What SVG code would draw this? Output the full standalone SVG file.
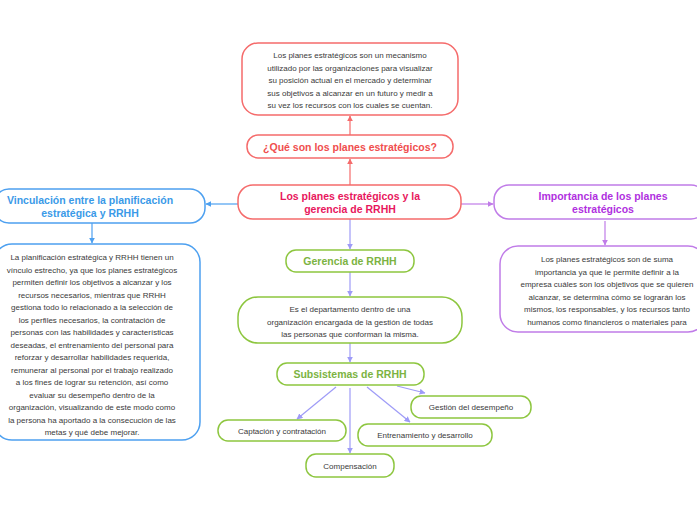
<svg xmlns="http://www.w3.org/2000/svg" width="697" height="520" viewBox="0 0 697 520">
<defs>
<marker id="aR" viewBox="0 0 10 10" refX="9" refY="5" markerWidth="5" markerHeight="5" orient="auto"><path d="M0,0L10,5L0,10z" fill="#f56b6b"/></marker>
<marker id="aB" viewBox="0 0 10 10" refX="9" refY="5" markerWidth="5" markerHeight="5" orient="auto"><path d="M0,0L10,5L0,10z" fill="#4da0f0"/></marker>
<marker id="aP" viewBox="0 0 10 10" refX="9" refY="5" markerWidth="5" markerHeight="5" orient="auto"><path d="M0,0L10,5L0,10z" fill="#c07ce8"/></marker>
<marker id="aL" viewBox="0 0 10 10" refX="9" refY="5" markerWidth="5" markerHeight="5" orient="auto"><path d="M0,0L10,5L0,10z" fill="#9e9bf7"/></marker>
</defs>
<style>
text{font-family:"Liberation Sans","Noto Sans",sans-serif;text-anchor:middle;}
.body{font-size:8px;fill:#3a3a3a;}
.ttl{font-size:10.5px;font-weight:bold;}
.red rect{fill:#fff;stroke:#f56b6b;stroke-width:1.5;}
.blue rect{fill:#fff;stroke:#4da0f0;stroke-width:1.5;}
.pur rect{fill:#fff;stroke:#c07ce8;stroke-width:1.5;}
.grn rect{fill:#fff;stroke:#8dc63f;stroke-width:1.5;}
#connectors line{stroke-width:1.2;fill:none;}
.cr{stroke:#f56b6b;marker-end:url(#aR);}
.cb{stroke:#4da0f0;marker-end:url(#aB);}
.cp{stroke:#c07ce8;marker-end:url(#aP);}
.cl{stroke:#9e9bf7;marker-end:url(#aL);}
</style>
<rect width="697" height="520" fill="#fff"/>
<g id="connectors">
<line class="cr" x1="350" y1="185" x2="350" y2="159"/>
<line class="cr" x1="350" y1="135" x2="350" y2="116"/>
<line class="cb" x1="238" y1="204" x2="206" y2="204"/>
<line class="cb" x1="92" y1="223" x2="92" y2="243"/>
<line class="cp" x1="461" y1="204" x2="493" y2="204"/>
<line class="cp" x1="605" y1="221" x2="605" y2="245"/>
<line class="cl" x1="350" y1="219" x2="350" y2="249"/>
<line class="cl" x1="350" y1="272" x2="350" y2="296"/>
<line class="cl" x1="350" y1="343" x2="350" y2="362"/>
<line class="cl" x1="336" y1="387" x2="297" y2="419"/>
<line class="cl" x1="350" y1="388" x2="350" y2="453"/>
<line class="cl" x1="367" y1="387" x2="410" y2="422"/>
<line class="cl" x1="397" y1="386" x2="425" y2="393"/>
</g>
<g id="n-def" class="red">
<rect x="242" y="43" width="216" height="72" rx="16"/>
<text class="body" x="350" y="58">Los planes estratégicos son un mecanismo</text>
<text class="body" x="350" y="70.5">utilizado por las organizaciones para visualizar</text>
<text class="body" x="350" y="83">su posición actual en el mercado y determinar</text>
<text class="body" x="350" y="95.5">sus objetivos a alcanzar en un futuro y medir a</text>
<text class="body" x="350" y="108">su vez los recursos con los cuales se cuentan.</text>
</g>
<g id="n-que" class="red">
<rect x="247" y="135" width="206" height="23" rx="11"/>
<text class="ttl" x="350" y="150.5" fill="#f04e4e">¿Qué son los planes estratégicos?</text>
</g>
<g id="n-central" class="red">
<rect x="238" y="185" width="223" height="34" rx="15"/>
<text class="ttl" x="350" y="200" fill="#e8175d">Los planes estratégicos y la</text>
<text class="ttl" x="350" y="213" fill="#e8175d">gerencia de RRHH</text>
</g>
<g id="n-vinc" class="blue">
<rect x="-6" y="189" width="211" height="34" rx="15"/>
<text class="ttl" x="90" y="204" fill="#3a9ae8">Vinculación entre la planificación</text>
<text class="ttl" x="90" y="217" fill="#3a9ae8">estratégica y RRHH</text>
</g>
<g id="n-vinc-body" class="blue">
<rect x="-6" y="244" width="206" height="196" rx="18"/>
<text class="body" x="92" y="260">La planificación estratégica y RRHH tienen un</text>
<text class="body" x="92" y="272.5">vínculo estrecho, ya que los planes estratégicos</text>
<text class="body" x="92" y="285">permiten definir los objetivos a alcanzar y los</text>
<text class="body" x="92" y="297.5">recursos necesarios, mientras que RRHH</text>
<text class="body" x="92" y="310">gestiona todo lo relacionado a la selección de</text>
<text class="body" x="92" y="322.5">los perfiles necesarios, la contratación de</text>
<text class="body" x="92" y="335">personas con las habilidades y características</text>
<text class="body" x="92" y="347.5">deseadas, el entrenamiento del personal para</text>
<text class="body" x="92" y="360">reforzar y desarrollar habilidades requerida,</text>
<text class="body" x="92" y="372.5">remunerar al personal por el trabajo realizado</text>
<text class="body" x="92" y="385">a los fines de lograr su retención, así como</text>
<text class="body" x="92" y="397.5">evaluar su desempeño dentro de la</text>
<text class="body" x="92" y="410">organización, visualizando de este modo como</text>
<text class="body" x="92" y="422.5">la persona ha aportado a la consecución de las</text>
<text class="body" x="92" y="435">metas y qué debe mejorar.</text>
</g>
<g id="n-imp" class="pur">
<rect x="494" y="185" width="212" height="34" rx="15"/>
<text class="ttl" x="603" y="200" fill="#b030e0">Importancia de los planes</text>
<text class="ttl" x="603" y="213" fill="#b030e0">estratégicos</text>
</g>
<g id="n-imp-body" class="pur">
<rect x="500" y="246" width="206" height="86" rx="18"/>
<text class="body" x="607" y="262">Los planes estratégicos son de suma</text>
<text class="body" x="607" y="274.5">importancia ya que le permite definir a la</text>
<text class="body" x="607" y="287">empresa cuáles son los objetivos que se quieren</text>
<text class="body" x="607" y="299.5">alcanzar, se determina cómo se lograrán los</text>
<text class="body" x="607" y="312">mismos, los responsables, y los recursos tanto</text>
<text class="body" x="607" y="324.5">humanos como financieros o materiales para</text>
</g>
<g id="n-ger" class="grn">
<rect x="286" y="250" width="128" height="22" rx="10"/>
<text class="ttl" x="350" y="265" fill="#7cb342">Gerencia de RRHH</text>
</g>
<g id="n-ger-body" class="grn">
<rect x="238" y="297" width="224" height="46" rx="20"/>
<text class="body" x="350" y="312">Es el departamento dentro de una</text>
<text class="body" x="350" y="324.5">organización encargada de la gestión de todas</text>
<text class="body" x="350" y="337">las personas que conforman la misma.</text>
</g>
<g id="n-sub" class="grn">
<rect x="277" y="363" width="147" height="22" rx="10"/>
<text class="ttl" x="350" y="378" fill="#7cb342">Subsistemas de RRHH</text>
</g>
<g id="n-capt" class="grn">
<rect x="218" y="420" width="128" height="21" rx="10"/>
<text class="body" x="282" y="433.5">Captación y contratación</text>
</g>
<g id="n-comp" class="grn">
<rect x="306" y="454" width="88" height="23" rx="10"/>
<text class="body" x="350" y="468.5">Compensación</text>
</g>
<g id="n-entr" class="grn">
<rect x="358" y="424" width="134" height="22" rx="10"/>
<text class="body" x="425" y="437.5">Entrenamiento y desarrollo</text>
</g>
<g id="n-gest" class="grn">
<rect x="411" y="396" width="120" height="22" rx="10"/>
<text class="body" x="471" y="409.5">Gestión del desempeño</text>
</g>
</svg>
